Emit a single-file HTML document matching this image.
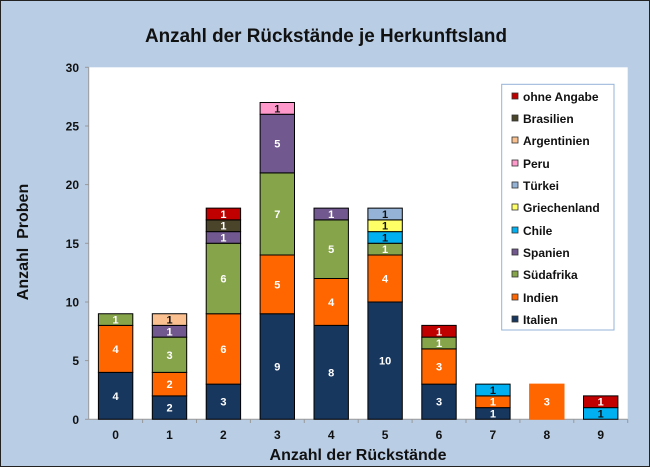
<!DOCTYPE html>
<html><head><meta charset="utf-8"><style>
html,body{margin:0;padding:0;background:#b9cde5}
svg{display:block;font-family:"Liberation Sans",Arial,sans-serif}
</style></head><body>
<svg width="650" height="467" viewBox="0 0 650 467" xmlns="http://www.w3.org/2000/svg">
<rect x="0.5" y="0.5" width="649" height="466" fill="#b9cde5" stroke="#222" stroke-width="1"/>
<text x="326" y="42" text-anchor="middle" font-size="19" font-weight="bold" fill="#111" textLength="362" lengthAdjust="spacingAndGlyphs">Anzahl der Rückstände je Herkunftsland</text>
<rect x="88.7" y="67.3" width="539" height="352" fill="#fff"/>
<g stroke="#999" stroke-width="1">
<line x1="88.7" y1="67.3" x2="88.7" y2="419.3"/>
<line x1="88.7" y1="419.3" x2="627.7" y2="419.3"/>
<line x1="85" y1="67.3" x2="88.7" y2="67.3"/><line x1="85" y1="126" x2="88.7" y2="126"/><line x1="85" y1="184.6" x2="88.7" y2="184.6"/><line x1="85" y1="243.3" x2="88.7" y2="243.3"/><line x1="85" y1="302" x2="88.7" y2="302"/><line x1="85" y1="360.6" x2="88.7" y2="360.6"/><line x1="85" y1="419.3" x2="88.7" y2="419.3"/>
<line x1="142.6" y1="419.3" x2="142.6" y2="423"/><line x1="196.5" y1="419.3" x2="196.5" y2="423"/><line x1="250.4" y1="419.3" x2="250.4" y2="423"/><line x1="304.3" y1="419.3" x2="304.3" y2="423"/><line x1="358.2" y1="419.3" x2="358.2" y2="423"/><line x1="412.1" y1="419.3" x2="412.1" y2="423"/><line x1="466" y1="419.3" x2="466" y2="423"/><line x1="519.9" y1="419.3" x2="519.9" y2="423"/><line x1="573.8" y1="419.3" x2="573.8" y2="423"/><line x1="627.7" y1="419.3" x2="627.7" y2="423"/>
</g>
<g font-size="12" font-weight="bold" fill="#111" text-anchor="end">
<text x="79" y="72">30</text><text x="79" y="130.5">25</text><text x="79" y="189">20</text><text x="79" y="248">15</text><text x="79" y="306.5">10</text><text x="79" y="365">5</text><text x="79" y="424">0</text>
</g>
<g font-size="12" font-weight="bold" fill="#111" text-anchor="middle">
<text x="115.6" y="439">0</text><text x="169.5" y="439">1</text><text x="223.4" y="439">2</text><text x="277.3" y="439">3</text><text x="331.2" y="439">4</text><text x="385.1" y="439">5</text><text x="439" y="439">6</text><text x="492.9" y="439">7</text><text x="546.8" y="439">8</text><text x="600.7" y="439">9</text>
</g>
<text x="358" y="460" text-anchor="middle" font-size="16" font-weight="bold" fill="#111">Anzahl der Rückstände</text>
<text transform="translate(28,242) rotate(-90)" text-anchor="middle" font-size="16" font-weight="bold" fill="#111" xml:space="preserve">Anzahl  Proben</text>

<g transform="translate(0,419.3) scale(1,-11.7333)" stroke="#000" stroke-width="1" vector-effect="non-scaling-stroke">
<!-- 0 -->
<rect x="98.4" y="0" width="34.4" height="4" fill="#17375e" vector-effect="non-scaling-stroke"/>
<rect x="98.4" y="4" width="34.4" height="4" fill="#ff6600" vector-effect="non-scaling-stroke"/>
<rect x="98.4" y="8" width="34.4" height="1" fill="#86a44a" vector-effect="non-scaling-stroke"/>
<!-- 1 -->
<rect x="152.3" y="0" width="34.4" height="2" fill="#17375e" vector-effect="non-scaling-stroke"/>
<rect x="152.3" y="2" width="34.4" height="2" fill="#ff6600" vector-effect="non-scaling-stroke"/>
<rect x="152.3" y="4" width="34.4" height="3" fill="#86a44a" vector-effect="non-scaling-stroke"/>
<rect x="152.3" y="7" width="34.4" height="1" fill="#71588f" vector-effect="non-scaling-stroke"/>
<rect x="152.3" y="8" width="34.4" height="1" fill="#fac090" vector-effect="non-scaling-stroke"/>
<!-- 2 -->
<rect x="206.2" y="0" width="34.4" height="3" fill="#17375e" vector-effect="non-scaling-stroke"/>
<rect x="206.2" y="3" width="34.4" height="6" fill="#ff6600" vector-effect="non-scaling-stroke"/>
<rect x="206.2" y="9" width="34.4" height="6" fill="#86a44a" vector-effect="non-scaling-stroke"/>
<rect x="206.2" y="15" width="34.4" height="1" fill="#71588f" vector-effect="non-scaling-stroke"/>
<rect x="206.2" y="16" width="34.4" height="1" fill="#4a452a" vector-effect="non-scaling-stroke"/>
<rect x="206.2" y="17" width="34.4" height="1" fill="#c00000" vector-effect="non-scaling-stroke"/>
<!-- 3 -->
<rect x="260.1" y="0" width="34.4" height="9" fill="#17375e" vector-effect="non-scaling-stroke"/>
<rect x="260.1" y="9" width="34.4" height="5" fill="#ff6600" vector-effect="non-scaling-stroke"/>
<rect x="260.1" y="14" width="34.4" height="7" fill="#86a44a" vector-effect="non-scaling-stroke"/>
<rect x="260.1" y="21" width="34.4" height="5" fill="#71588f" vector-effect="non-scaling-stroke"/>
<rect x="260.1" y="26" width="34.4" height="1" fill="#ff99cc" vector-effect="non-scaling-stroke"/>
<!-- 4 -->
<rect x="314" y="0" width="34.4" height="8" fill="#17375e" vector-effect="non-scaling-stroke"/>
<rect x="314" y="8" width="34.4" height="4" fill="#ff6600" vector-effect="non-scaling-stroke"/>
<rect x="314" y="12" width="34.4" height="5" fill="#86a44a" vector-effect="non-scaling-stroke"/>
<rect x="314" y="17" width="34.4" height="1" fill="#71588f" vector-effect="non-scaling-stroke"/>
<!-- 5 -->
<rect x="367.9" y="0" width="34.4" height="10" fill="#17375e" vector-effect="non-scaling-stroke"/>
<rect x="367.9" y="10" width="34.4" height="4" fill="#ff6600" vector-effect="non-scaling-stroke"/>
<rect x="367.9" y="14" width="34.4" height="1" fill="#86a44a" vector-effect="non-scaling-stroke"/>
<rect x="367.9" y="15" width="34.4" height="1" fill="#00b0f0" vector-effect="non-scaling-stroke"/>
<rect x="367.9" y="16" width="34.4" height="1" fill="#ffff66" vector-effect="non-scaling-stroke"/>
<rect x="367.9" y="17" width="34.4" height="1" fill="#95b3d7" vector-effect="non-scaling-stroke"/>
<!-- 6 -->
<rect x="421.8" y="0" width="34.4" height="3" fill="#17375e" vector-effect="non-scaling-stroke"/>
<rect x="421.8" y="3" width="34.4" height="3" fill="#ff6600" vector-effect="non-scaling-stroke"/>
<rect x="421.8" y="6" width="34.4" height="1" fill="#86a44a" vector-effect="non-scaling-stroke"/>
<rect x="421.8" y="7" width="34.4" height="1" fill="#c00000" vector-effect="non-scaling-stroke"/>
<!-- 7 -->
<rect x="475.7" y="0" width="34.4" height="1" fill="#17375e" vector-effect="non-scaling-stroke"/>
<rect x="475.7" y="1" width="34.4" height="1" fill="#ff6600" vector-effect="non-scaling-stroke"/>
<rect x="475.7" y="2" width="34.4" height="1" fill="#00b0f0" vector-effect="non-scaling-stroke"/>
<!-- 8 -->
<rect x="529.6" y="0" width="34.4" height="3" fill="#ff6600" stroke="#ff6600" vector-effect="non-scaling-stroke"/>
<!-- 9 -->
<rect x="583.5" y="0" width="34.4" height="1" fill="#00b0f0" vector-effect="non-scaling-stroke"/>
<rect x="583.5" y="1" width="34.4" height="1" fill="#c00000" vector-effect="non-scaling-stroke"/>
</g>

<g font-size="11" font-weight="bold" text-anchor="middle" fill="#fff">
<text x="115.6" y="399.8">4</text><text x="115.6" y="352.9">4</text><text x="115.6" y="323.6">1</text>
<text x="169.5" y="411.6">2</text><text x="169.5" y="388.1">2</text><text x="169.5" y="358.8">3</text><text x="169.5" y="335.3">1</text><text x="169.5" y="323.6" fill="#111">1</text>
<text x="223.4" y="405.7">3</text><text x="223.4" y="352.9">6</text><text x="223.4" y="282.5">6</text><text x="223.4" y="241.4">1</text><text x="223.4" y="229.7">1</text><text x="223.4" y="218">1</text>
<text x="277.3" y="370.5">9</text><text x="277.3" y="288.4">5</text><text x="277.3" y="218">7</text><text x="277.3" y="147.6">5</text><text x="277.3" y="112.4" fill="#111">1</text>
<text x="331.2" y="376.4">8</text><text x="331.2" y="306">4</text><text x="331.2" y="253.2">5</text><text x="331.2" y="218">1</text>
<text x="385.1" y="364.6">10</text><text x="385.1" y="282.5">4</text><text x="385.1" y="253.2">1</text><text x="385.1" y="241.4" fill="#111">1</text><text x="385.1" y="229.7" fill="#111">1</text><text x="385.1" y="218" fill="#111">1</text>
<text x="439" y="405.7">3</text><text x="439" y="370.5">3</text><text x="439" y="347">1</text><text x="439" y="335.3">1</text>
<text x="492.9" y="417.4">1</text><text x="492.9" y="405.7">1</text><text x="492.9" y="394" fill="#111">1</text>
<text x="546.8" y="405.7">3</text>
<text x="600.7" y="417.4" fill="#111">1</text><text x="600.7" y="405.7">1</text>
</g>

<rect x="501.7" y="84.3" width="112.3" height="245.7" fill="#fff" stroke="#95b3d7" stroke-width="1"/>
<g stroke="#333" stroke-width="0.8">
<rect x="512" y="93" width="6" height="6" fill="#c00000"/>
<rect x="512" y="115" width="6" height="6" fill="#4a452a"/>
<rect x="512" y="137" width="6" height="6" fill="#fac090"/>
<rect x="512" y="160" width="6" height="6" fill="#ff99cc"/>
<rect x="512" y="182" width="6" height="6" fill="#95b3d7"/>
<rect x="512" y="204" width="6" height="6" fill="#ffff66"/>
<rect x="512" y="227" width="6" height="6" fill="#00b0f0"/>
<rect x="512" y="249" width="6" height="6" fill="#71588f"/>
<rect x="512" y="271" width="6" height="6" fill="#86a44a"/>
<rect x="512" y="294" width="6" height="6" fill="#ff6600"/>
<rect x="512" y="316" width="6" height="6" fill="#17375e"/>
</g>
<g font-size="12" font-weight="bold" fill="#111">
<text x="523" y="101">ohne Angabe</text>
<text x="523" y="123">Brasilien</text>
<text x="523" y="145">Argentinien</text>
<text x="523" y="168">Peru</text>
<text x="523" y="190">Türkei</text>
<text x="523" y="212">Griechenland</text>
<text x="523" y="235">Chile</text>
<text x="523" y="257">Spanien</text>
<text x="523" y="279">Südafrika</text>
<text x="523" y="302">Indien</text>
<text x="523" y="324">Italien</text>
</g>
</svg>
</body></html>
